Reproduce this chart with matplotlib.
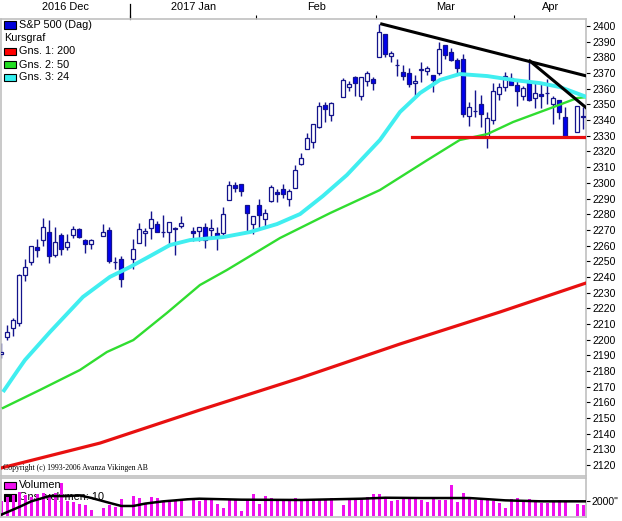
import numpy as np
import pandas as pd
import matplotlib
matplotlib.use('Agg')
import matplotlib.pyplot as plt
import matplotlib.transforms as mtransforms
from matplotlib.patches import Rectangle

plt.rcParams['font.family'] = ['Liberation Sans', 'DejaVu Sans']

# handelsdagar (vardagar minus helgdagar)
days = pd.bdate_range('2016-12-02', '2017-04-18')
holidays = pd.to_datetime(['2016-12-26', '2017-01-02', '2017-01-16', '2017-02-20', '2017-04-14'])

# S&P 500 dagliga kurser
opens = [2191.1, 2201.5, 2207.3, 2210.7, 2241.1, 2249.7, 2258.8, 2263.8, 2268.4, 2253.8,
         2266.8, 2259.2, 2266.5, 2270.5, 2263.5, 2261.0, 2266.2, 2270.2, 2249.5, 2251.6,
         2251.6, 2261.6, 2268.2, 2271.1, 2273.6, 2268.6, 2268.6, 2271.1, 2272.7, 2269.1,
         2269.1, 2271.9, 2270.0, 2267.8, 2267.9, 2288.9, 2298.6, 2299.0, 2286.0, 2274.0,
         2285.6, 2276.7, 2288.5, 2294.3, 2295.9, 2289.6, 2296.7, 2312.3, 2321.7, 2326.1,
         2335.6, 2349.6, 2343.0, 2354.9, 2361.1, 2367.5, 2355.7, 2365.2, 2366.1, 2380.1,
         2394.8, 2380.9, 2375.2, 2370.7, 2369.8, 2363.5, 2372.0, 2371.6, 2368.6, 2370.3,
         2387.7, 2383.7, 2378.2, 2379.3, 2342.6, 2346.0, 2350.4, 2329.1, 2339.8, 2356.5,
         2361.3, 2366.6, 2362.3, 2355.4, 2365.0, 2353.8, 2356.6, 2357.2, 2350.3, 2352.7,
         2341.9, 2332.6, 2342.5]
highs = [2198.0, 2209.4, 2214.0, 2241.6, 2251.7, 2259.8, 2264.0, 2277.5, 2276.0, 2272.1,
         2268.0, 2267.2, 2272.6, 2271.2, 2264.0, 2264.0, 2273.8, 2271.6, 2252.9, 2253.6,
         2263.9, 2274.3, 2271.5, 2282.1, 2275.5, 2279.3, 2275.3, 2271.8, 2278.7, 2272.0,
         2272.0, 2274.3, 2277.0, 2271.8, 2284.6, 2300.9, 2300.4, 2299.0, 2286.0, 2279.1,
         2289.6, 2283.2, 2298.3, 2296.2, 2299.4, 2295.9, 2311.1, 2319.2, 2331.6, 2337.6,
         2351.3, 2351.3, 2351.3, 2366.7, 2365.1, 2368.3, 2367.3, 2371.5, 2367.8, 2401.0,
         2394.8, 2383.9, 2378.8, 2375.1, 2373.1, 2369.0, 2376.9, 2374.4, 2368.6, 2390.0,
         2388.1, 2385.7, 2379.5, 2381.9, 2351.8, 2358.9, 2356.2, 2344.9, 2363.8, 2363.5,
         2370.4, 2370.3, 2365.9, 2362.0, 2378.0, 2364.5, 2363.8, 2366.4, 2355.2, 2352.7,
         2348.3, 2349.1, 2348.4]
lows = [2188.4, 2199.9, 2202.3, 2208.9, 2237.6, 2247.5, 2252.4, 2259.5, 2249.1, 2253.0,
        2254.0, 2257.0, 2265.0, 2265.0, 2255.0, 2258.0, 2266.0, 2249.1, 2244.8, 2233.6,
        2245.1, 2261.6, 2260.0, 2264.1, 2268.8, 2265.5, 2260.8, 2254.0, 2271.5, 2262.8,
        2263.0, 2258.4, 2265.0, 2257.0, 2266.8, 2288.9, 2294.1, 2291.6, 2268.0, 2267.2,
        2271.0, 2271.6, 2287.9, 2288.0, 2290.2, 2285.4, 2296.6, 2311.1, 2321.4, 2322.5,
        2334.8, 2338.9, 2339.6, 2355.0, 2358.3, 2355.1, 2352.9, 2361.9, 2358.9, 2380.1,
        2380.2, 2376.9, 2367.9, 2365.5, 2361.0, 2354.5, 2364.0, 2368.5, 2358.2, 2368.9,
        2379.0, 2377.6, 2369.7, 2341.9, 2336.5, 2342.1, 2335.7, 2322.3, 2337.6, 2353.0,
        2358.6, 2362.5, 2349.0, 2353.0, 2352.0, 2348.0, 2348.0, 2350.0, 2337.3, 2341.0,
        2328.9, 2332.5, 2334.5]
closes = [2192.0, 2204.8, 2212.3, 2241.4, 2246.2, 2259.5, 2257.0, 2271.7, 2253.3, 2262.0,
          2258.1, 2262.5, 2270.8, 2265.2, 2261.0, 2263.8, 2268.9, 2249.9, 2249.3, 2238.8,
          2257.8, 2270.8, 2269.0, 2277.0, 2268.9, 2268.9, 2275.3, 2270.4, 2274.6, 2267.9,
          2271.9, 2263.7, 2271.3, 2265.2, 2280.1, 2298.4, 2296.7, 2294.7, 2280.9, 2278.9,
          2279.6, 2280.9, 2297.4, 2292.6, 2293.1, 2294.7, 2307.9, 2316.1, 2328.3, 2337.6,
          2349.3, 2347.2, 2351.2, 2365.4, 2362.8, 2363.8, 2367.3, 2369.8, 2363.6, 2396.0,
          2381.9, 2383.1, 2375.3, 2368.4, 2363.0, 2364.9, 2372.6, 2373.5, 2365.5, 2385.3,
          2381.4, 2378.3, 2373.5, 2344.0, 2348.5, 2346.0, 2344.0, 2341.6, 2358.6, 2361.1,
          2368.1, 2362.7, 2358.8, 2360.2, 2353.0, 2357.5, 2355.5, 2357.2, 2353.8, 2344.9,
          2329.0, 2349.0, 2342.2]
volume = [2100, 2550, 2800, 3250, 2900, 2550, 3000, 3150, 2800, 3150,
          4500, 2000, 1900, 1700, 1450, 800, 1100, 1450, 1250, 2250,
          2700, 2450, 1700, 2550, 2450, 2000, 1900, 2000, 2150, 2350,
          2000, 2250, 2350, 1700, 1100, 2350, 2350, 650, 2250, 2950,
          1700, 2700, 2500, 2150, 2250, 2350, 2450, 2250, 2250, 2150,
          2150, 2350, 2450, 1550, 2350, 2450, 2350, 2550, 3000, 2950,
          2450, 2000, 2150, 2350, 2450, 2250, 2150, 1900, 2450, 2150,
          2150, 4200, 1900, 3150, 2450, 2150, 2150, 2250, 2000, 1800,
          1100, 2350, 2450, 2150, 2250, 2000, 1800, 1800, 2000, 2150,
          1900, 1700, 1450]

# glidande medelvärden (slot-index, kurs)
ma200_x = [-0.05, 16.45, 33.1, 49.8, 66.45, 83.1, 97.45]
ma200_y = [2118.1, 2134.0, 2155.1, 2175.5, 2197.2, 2217.6, 2236.1]
ma50_x = [0.28, 6.45, 13.1, 17.6, 22.0, 27.6, 33.1, 37.6, 46.45, 54.8, 63.1, 71.0,
          76.4, 81.0, 85.3, 92.0, 96.0, 97.6]
ma50_y = [2156.4, 2167.9, 2180.6, 2192.1, 2199.7, 2217.0, 2234.8, 2244.4, 2264.8,
          2280.7, 2295.4, 2314.5, 2327.3, 2331.1, 2338.8, 2348.3, 2354.1, 2354.7]
ma24_x = [0.28, 2.78, 3.95, 8.1, 13.6, 18.1, 21.45, 24.8, 28.1, 31.45, 37.0, 41.45,
          45.95, 49.8, 53.6, 57.6, 63.1, 66.45, 69.8, 73.1, 76.4, 81.0, 85.3, 89.8,
          93.1, 97.6]
ma24_y = [2166.6, 2180.6, 2187.0, 2204.8, 2227.2, 2240.0, 2246.3, 2253.3, 2260.3,
          2263.5, 2265.4, 2268.6, 2273.7, 2280.1, 2291.6, 2305.0, 2327.3, 2345.2,
          2357.3, 2365.6, 2369.4, 2368.1, 2365.6, 2363.6, 2361.1, 2354.7]
vma_x = [0, 3, 5, 8, 11, 13, 15, 18, 20, 22, 24, 27, 29, 31, 33, 40, 50, 60, 64, 70, 78,
         84, 90, 97.5]
vma_y = [220, 1250, 2000, 2700, 2700, 2800, 2450, 1800, 1380, 1380, 1700, 2000, 2130,
         2270, 2350, 2220, 2180, 2350, 2480, 2440, 2440, 2130, 2000, 2000]

# trendlinjer (slot-index, kurs)
trend1_x, trend1_y = [63.4, 97.6], [2401.3, 2368.1]
trend2_x, trend2_y = [88.1, 97.6], [2377.7, 2347.5]
support_x, support_y = [68.4, 97.6], [2329.4, 2329.4]

months = ['2016 Dec', '2017 Jan', 'Feb', 'Mar', 'Apr']
month_starts = ['2017-01-02', '2017-02-01', '2017-03-01', '2017-04-03']

is_trade = ~days.isin(holidays)
xs = np.arange(len(days))[is_trade]
assert len(xs) == len(opens) == len(highs) == len(lows) == len(closes) == len(volume)

W, H = 622, 521
fig = plt.figure(figsize=(W / 100, H / 100), dpi=100)


def box(l, t, r, b):
    return [l / W, 1 - b / H, (r - l) / W, (b - t) / H]


ax = fig.add_axes(box(1, 19, 586, 476))
axv = fig.add_axes(box(1, 478, 586, 517))
xlim = (-0.05, 97.45)

# candlesticks
navy = '#14148c'
ax.vlines(xs, lows, highs, color=navy, lw=1.0, zorder=2)
for x, o, c in zip(xs, opens, closes):
    up = c >= o
    ax.add_patch(Rectangle((x - 0.33, min(o, c)), 0.66, max(abs(c - o), 0.01),
                           facecolor='white' if up else '#0000f0',
                           edgecolor=navy, lw=0.9, zorder=3))

ax.plot(ma200_x, ma200_y, color='#e81010', lw=2.3, zorder=4)
ax.plot(ma50_x, ma50_y, color='#30dd30', lw=1.7, zorder=4)
ax.plot(ma24_x, ma24_y, color='#40eef0', lw=2.8, zorder=4, solid_capstyle='butt')
ax.plot(support_x, support_y, color='#e81010', lw=2.3, zorder=5)
ax.plot(trend1_x, trend1_y, color='black', lw=2.2, zorder=5)
ax.plot(trend2_x, trend2_y, color='black', lw=2.2, zorder=5)

ax.set_xlim(*xlim)
ax.set_ylim(2113.0, 2404.5)
ax.yaxis.tick_right()
ax.set_yticks(np.arange(2120, 2401, 10))
ax.tick_params(axis='y', length=3, width=0.8, labelsize=7.6, pad=2)

# månadsaxel överst
trade_days = days[is_trade]
bounds = [xs[np.searchsorted(trade_days, pd.Timestamp(d))] - 0.5 for d in month_starts]
edges = [xlim[0]] + bounds + [xlim[1]]
centers = [(a + b) / 2 for a, b in zip(edges[:-1], edges[1:])]
ax.xaxis.tick_top()
ax.set_xticks(bounds)
ax.set_xticklabels([''] * len(bounds))
ax.set_xticks(centers, minor=True)
ax.set_xticklabels(months, minor=True)
ax.tick_params(axis='x', which='major', length=3, width=0.8, color='black')
ax.tick_params(axis='x', which='minor', length=0, labelsize=7.9, pad=5)
trans = mtransforms.blended_transform_factory(ax.transData, ax.transAxes)
ax.plot([bounds[0], bounds[0]], [1.0, 1.0 + 15 / 457], color='black', lw=0.9,
        transform=trans, clip_on=False)

for a in (ax, axv):
    for s in a.spines.values():
        s.set_color('#c0c0c0')
        s.set_linewidth(1.2)


# förklaringar
def swatch(x, y, color, target=fig, z=6):
    target.add_artist(Rectangle((x / W, 1 - (y + 3.5) / H), 12 / W, 7 / H,
                                facecolor=color, edgecolor='black', lw=0.8,
                                transform=fig.transFigure, zorder=z))


legend = [('S&P 500 (Dag)', '#0000d8', 25), ('Kursgraf', None, 38.5),
          ('Gns. 1: 200', '#ff0000', 51.5), ('Gns. 2: 50', '#22dd22', 64.5),
          ('Gns. 3: 24', '#33f0f0', 77.5)]
for label, col, y in legend:
    if col:
        swatch(4, y, col)
        fig.text(19 / W, 1 - y / H, label, fontsize=7.8, va='center', ha='left')
    else:
        fig.text(4 / W, 1 - y / H, label, fontsize=7.8, va='center', ha='left')

fig.text(3 / W, 1 - 468 / H, 'Copyright (c) 1993-2006 Avanza Vikingen AB',
         fontsize=5.6, family='Liberation Serif', va='center', ha='left')

# volym
axv.bar(xs, volume, width=0.47, color='#ee10ee', zorder=2)
axv.plot(vma_x, vma_y, color='black', lw=1.8, zorder=3)
axv.set_xlim(*xlim)
axv.set_ylim(-90, 5110)
axv.set_xticks([])
axv.yaxis.tick_right()
axv.set_yticks([2000])
axv.set_yticklabels(['2000"'])
axv.tick_params(axis='y', length=3, width=0.8, labelsize=7.6, pad=1)

swatch(4, 485, '#ee10ee', target=axv, z=1)
axv.text(19 / W, 1 - 485 / H, 'Volumen', fontsize=7.8, va='center', ha='left',
         transform=fig.transFigure, zorder=1)
swatch(4, 497, 'black', target=axv, z=1)
axv.text(19 / W, 1 - 497 / H, 'Gns. volymen: 10', fontsize=7.8, va='center', ha='left',
         transform=fig.transFigure, zorder=1)

fig.savefig('out.png', dpi=100, facecolor='white')
